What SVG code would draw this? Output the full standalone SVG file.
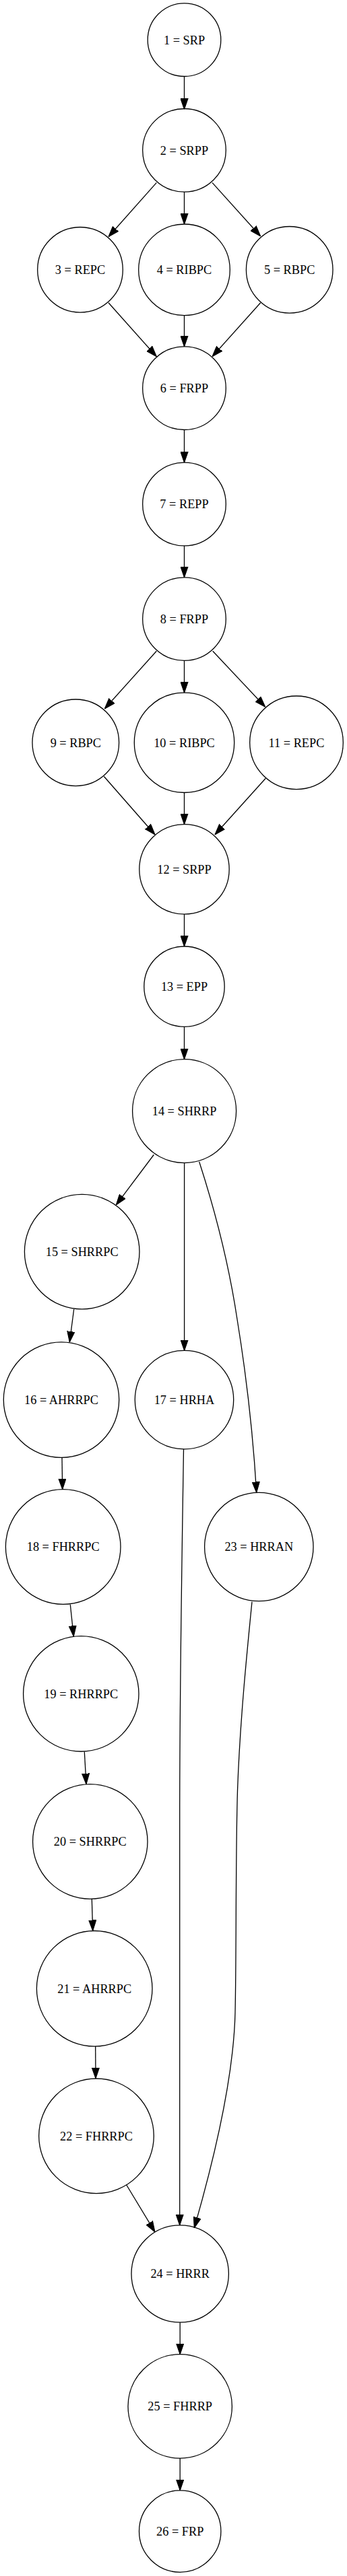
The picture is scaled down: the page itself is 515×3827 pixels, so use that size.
<svg xmlns="http://www.w3.org/2000/svg" width="515" height="3827" viewBox="0 0 515 3827">
<style>
.n circle{fill:none;stroke:#000;stroke-width:1.3}
.n text{font-family:"Liberation Serif","Times New Roman",serif;font-size:18.3px;text-anchor:middle;fill:#000}
.e path{fill:none;stroke:#000;stroke-width:1.3;marker-end:url(#ah)}
</style>
<defs>
<marker id="ah" markerUnits="userSpaceOnUse" markerWidth="16" markerHeight="12" viewBox="0 0 14.5 10" refX="14.5" refY="5" orient="auto">
<path d="M0,0 L14.5,5 L0,10 z" fill="#000" stroke="#000" stroke-width="1"/>
</marker>
</defs>
<rect width="515" height="3827" fill="#fff"/>
<g id="connectors" class="e">
<path d="M273.5,113.5 L273.5,162.4"/>
<path d="M232.3,271.4 L161,351.8"/>
<path d="M273.5,285 L273.5,333"/>
<path d="M315,271.4 L386.7,351"/>
<path d="M161,449.8 L232.3,529.8"/>
<path d="M273.5,468.6 L273.5,514.9"/>
<path d="M386.7,449.8 L315,529.8"/>
<path d="M273.5,638.5 L273.5,687.2"/>
<path d="M273.5,810.8 L273.5,857.8"/>
<path d="M232.3,967.3 L155.3,1053"/>
<path d="M273.5,981.4 L273.5,1029.1"/>
<path d="M315.7,967.3 L393.7,1050.2"/>
<path d="M154.3,1153.5 L230,1240"/>
<path d="M273.5,1177.5 L273.5,1224.7"/>
<path d="M394.3,1156.3 L319,1240"/>
<path d="M273.5,1358.1 L273.5,1406"/>
<path d="M273.5,1525.4 L273.5,1573.7"/>
<path d="M228.3,1715.5 L172.3,1790.2"/>
<path d="M273.6,1727.6 L273.6,2006.5"/>
<path d="M295.7,1726 C318,1795 340,1880 352,1960 C365,2040 375,2120 380.7,2217.5"/>
<path d="M109.7,1945 L103.3,1994"/>
<path d="M272.5,2152.8 C269.5,2350 266.7,2500 266.7,2700 L266.7,3305.9"/>
<path d="M92,2165.3 L92.7,2212.7"/>
<path d="M374,2379.6 C366,2460 356,2560 352.5,2660 C349.5,2760 351,2900 349,2990 C347,3080 320,3200 288.3,3310"/>
<path d="M104.3,2383.7 L109.3,2431.2"/>
<path d="M125.3,2602.5 L128,2650.7"/>
<path d="M136.3,2821 L137.7,2868.5"/>
<path d="M141.7,3040 L142,3087.8"/>
<path d="M187.7,3246 L230,3316"/>
<path d="M267.2,3450.2 L267.2,3497.7"/>
<path d="M267.2,3652.1 L267.2,3699.9"/>
</g>
<g id="n1" class="n"><circle cx="273.5" cy="59.2" r="54.3"/><text x="273.5" y="65.5">1 = SRP</text></g>
<g id="n2" class="n"><circle cx="273.5" cy="223.3" r="61.8"/><text x="273.5" y="229.6">2 = SRPP</text></g>
<g id="n3" class="n"><circle cx="119" cy="400.8" r="63.3"/><text x="119" y="407.1">3 = REPC</text></g>
<g id="n4" class="n"><circle cx="273.5" cy="400.8" r="67.8"/><text x="273.5" y="407.1">4 = RIBPC</text></g>
<g id="n5" class="n"><circle cx="429.7" cy="400.8" r="64.3"/><text x="429.7" y="407.1">5 = RBPC</text></g>
<g id="n6" class="n"><circle cx="273.5" cy="576.7" r="61.8"/><text x="273.5" y="583">6 = FRPP</text></g>
<g id="n7" class="n"><circle cx="273.5" cy="749" r="61.8"/><text x="273.5" y="755.3">7 = REPP</text></g>
<g id="n8" class="n"><circle cx="273.5" cy="919.6" r="61.8"/><text x="273.5" y="925.9">8 = FRPP</text></g>
<g id="n9" class="n"><circle cx="112.3" cy="1103.3" r="64.3"/><text x="112.3" y="1109.6">9 = RBPC</text></g>
<g id="n10" class="n"><circle cx="273.5" cy="1103.3" r="74.2"/><text x="273.5" y="1109.6">10 = RIBPC</text></g>
<g id="n11" class="n"><circle cx="440" cy="1103.3" r="69.3"/><text x="440" y="1109.6">11 = REPC</text></g>
<g id="n12" class="n"><circle cx="273.5" cy="1291.4" r="66.7"/><text x="273.5" y="1297.7">12 = SRPP</text></g>
<g id="n13" class="n"><circle cx="273.5" cy="1465.7" r="59.7"/><text x="273.5" y="1472">13 = EPP</text></g>
<g id="n14" class="n"><circle cx="273.6" cy="1650.6" r="77"/><text x="273.6" y="1656.9">14 = SHRRP</text></g>
<g id="n15" class="n"><circle cx="121.7" cy="1859.6" r="85.3"/><text x="121.7" y="1865.9">15 = SHRRPC</text></g>
<g id="n16" class="n"><circle cx="91" cy="2079.6" r="85.7"/><text x="91" y="2085.9">16 = AHRRPC</text></g>
<g id="n17" class="n"><circle cx="273.5" cy="2079.6" r="73.2"/><text x="273.5" y="2085.9">17 = HRHA</text></g>
<g id="n18" class="n"><circle cx="93.7" cy="2298" r="85.3"/><text x="93.7" y="2304.3">18 = FHRRPC</text></g>
<g id="n19" class="n"><circle cx="120.3" cy="2516.3" r="85.7"/><text x="120.3" y="2522.6">19 = RHRRPC</text></g>
<g id="n20" class="n"><circle cx="133.8" cy="2735.9" r="85.2"/><text x="133.8" y="2742.2">20 = SHRRPC</text></g>
<g id="n21" class="n"><circle cx="140.2" cy="2954.3" r="85.8"/><text x="140.2" y="2960.6">21 = AHRRPC</text></g>
<g id="n22" class="n"><circle cx="143" cy="3173.3" r="85.3"/><text x="143" y="3179.6">22 = FHRRPC</text></g>
<g id="n23" class="n"><circle cx="384.3" cy="2298" r="80.7"/><text x="384.3" y="2304.3">23 = HRRAN</text></g>
<g id="n24" class="n"><circle cx="267.2" cy="3378" r="72.2"/><text x="267.2" y="3384.3">24 = HRRR</text></g>
<g id="n25" class="n"><circle cx="267.2" cy="3574.9" r="77.2"/><text x="267.2" y="3581.2">25 = FHRRP</text></g>
<g id="n26" class="n"><circle cx="267.2" cy="3760.6" r="60.7"/><text x="267.2" y="3766.9">26 = FRP</text></g>
</svg>
